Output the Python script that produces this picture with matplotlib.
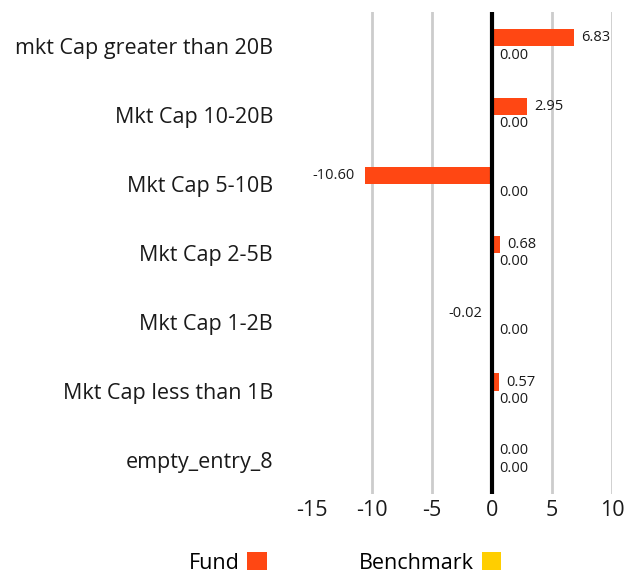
import matplotlib.pyplot as plt
import numpy as np
from matplotlib.patches import Patch

categories = ['mkt Cap greater than 20B', 'Mkt Cap 10-20B', 'Mkt Cap 5-10B', 'Mkt Cap 2-5B',
              'Mkt Cap 1-2B', 'Mkt Cap less than 1B', 'empty_entry_8']
fund = [6.83, 2.95, -10.60, 0.68, -0.02, 0.57, 0.00]
benchmark = [0.00, 0.00, 0.00, 0.00, 0.00, 0.00, 0.00]
xticks = [-15, -10, -5, 0, 5, 10]

fund_color = '#FF4713'
bench_color = '#FFCE00'

plt.rcParams['font.family'] = ['Open Sans', 'DejaVu Sans']

px = 1/100
fig = plt.figure(figsize=(636*px, 577*px), dpi=100)
ax = fig.add_axes([312/636, 1-494/577, 300/636, 482/577])

y = np.arange(len(categories))
h = 0.25
ax.barh(y - h/2, fund, height=h, color=fund_color, zorder=3)
ax.barh(y + h/2, benchmark, height=h, color=bench_color, zorder=3)

# value labels
for i in range(len(categories)):
    v = fund[i]
    if v < 0:
        ax.annotate(f'{v:.2f}', (v, y[i] - h/2), xytext=(-7, 0), textcoords='offset points',
                    ha='right', va='center', fontsize=10.5, color='#1a1a1a')
    else:
        ax.annotate(f'{v:.2f}', (v, y[i] - h/2), xytext=(5, 0), textcoords='offset points',
                    ha='left', va='center', fontsize=10.5, color='#1a1a1a')
    b = benchmark[i]
    ax.annotate(f'{b:.2f}', (max(b, 0), y[i] + h/2), xytext=(5, 0), textcoords='offset points',
                ha='left', va='center', fontsize=10.5, color='#1a1a1a')

ax.set_xlim(-15, 10)
ax.set_ylim(len(categories) - 0.5, -0.5)
ax.set_yticks(y)
ax.set_yticklabels(categories, fontsize=15.5, color='#1a1a1a')
ax.set_xticks(xticks)
ax.set_xticklabels([str(t) for t in xticks], fontsize=15.5, color='#1a1a1a')
ax.tick_params(axis='y', length=0, pad=28)
ax.tick_params(axis='x', length=0, pad=4)

for t in xticks:
    if t == 0:
        ax.axvline(0, color='black', lw=3, zorder=4, ymin=-0.005)
    elif t != -15:
        ax.axvline(t, color='#cccccc', lw=2, zorder=1)

for s in ax.spines.values():
    s.set_visible(False)

handles = [Patch(facecolor=fund_color, label='Fund'),
           Patch(facecolor=bench_color, label='Benchmark')]
fig.legend(handles=handles, loc='center', bbox_to_anchor=(345/636, 1-563/577), ncol=2,
           markerfirst=False, frameon=False, fontsize=15.5, handlelength=0.9, handleheight=0.9,
           columnspacing=4.3, handletextpad=0.35)

fig.savefig('out.png', dpi=100)
